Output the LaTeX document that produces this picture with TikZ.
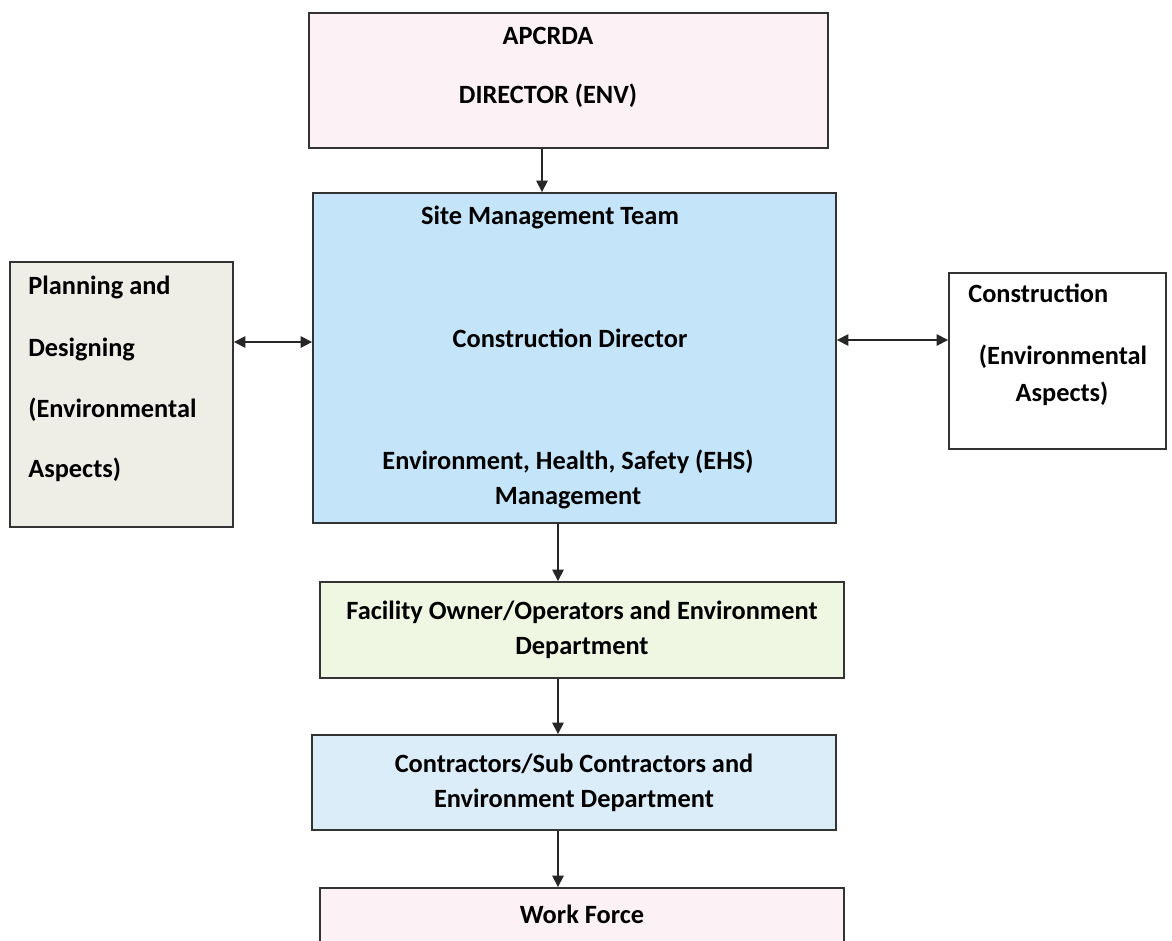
\documentclass[tikz,border=0pt]{standalone}
\usepackage{fontspec}
\setmainfont{Carlito}
\usetikzlibrary{arrows.meta}
\definecolor{boxpink}{HTML}{FCF1F5}
\definecolor{boxblue}{HTML}{C4E5F9}
\definecolor{boxbeige}{HTML}{EEEDE6}
\definecolor{boxgreen}{HTML}{EFF6E2}
\definecolor{boxsky}{HTML}{DCEDFA}
\begin{document}
\begin{tikzpicture}[x=0.02cm,y=-0.02cm,
box/.style={draw=black!80, line width=1.1pt, inner sep=0pt, align=center,
  font=\bfseries\fontsize{15}{20}\selectfont},
txt/.style={font=\bfseries\fontsize{15}{20}\selectfont, inner sep=0pt, anchor=mid},
arr/.style={-{Triangle[length=6.5pt,width=6.5pt]}, line width=0.9pt, black!85},
darr/.style={{Triangle[length=6.5pt,width=6.5pt]}-{Triangle[length=6.5pt,width=6.5pt]}, line width=0.9pt, black!85}]
\useasboundingbox (0,0) rectangle (1172,940);
% boxes
\node[box,fill=boxpink,minimum width=10.38cm,minimum height=2.7cm] (apcrda) at (568.5,80.5) {};
\node[box,fill=boxblue,minimum width=10.46cm,minimum height=6.6cm] (site) at (574.5,358) {};
\node[box,fill=boxbeige,minimum width=4.46cm,minimum height=5.3cm] (plan) at (121.5,394.5) {};
\node[box,fill=white,minimum width=4.34cm,minimum height=3.52cm] (constr) at (1057.5,361) {};
\node[box,fill=boxgreen,minimum width=10.48cm,minimum height=1.92cm] (facility) at (582,630)
  {Facility Owner/Operators and Environment\\Department};
\node[box,fill=boxsky,minimum width=10.48cm,minimum height=1.9cm] (contr) at (574,782.5)
  {Contractors/Sub Contractors and\\Environment Department};
\node[box,fill=boxpink,minimum width=10.48cm,minimum height=1.6cm,text depth=0.55cm] (work) at (582,928) {Work Force};
% texts
\node[txt] (apcrdaT) at (548,40) {APCRDA};
\node[txt] (dirT) at (548,99) {DIRECTOR (ENV)};
\node[txt] (siteT) at (550,220) {Site Management Team};
\node[txt] (cdT) at (570,343) {Construction Director};
\node[txt] (ehsT) at (568,465) {Environment, Health, Safety (EHS)};
\node[txt] (mgmtT) at (568,500) {Management};
\foreach \y/\t [count=\i] in {290/Planning and, 352/Designing, 413/(Environmental, 473/Aspects)}
  \node[txt,anchor=mid west] (plan\i) at (28,\y) {\t};
\node[txt,anchor=mid west] (constrT) at (968,298) {Construction};
\node[txt] (envT) at (1063,360) {(Environmental};
\node[txt] (aspT) at (1062,397) {Aspects)};
% connectors
\coordinate (topx) at (542,0);
\coordinate (downx) at (558,0);
\coordinate (midl) at (0,342);
\coordinate (midr) at (0,340);
\draw[arr] (apcrda.south -| topx) -- (site.north -| topx);
\foreach \a/\b in {site/facility, facility/contr, contr/work}
  \draw[arr] (\a.south -| downx) -- (\b.north -| downx);
\draw[darr] (plan.east |- midl) -- (site.west |- midl);
\draw[darr] (site.east |- midr) -- (constr.west |- midr);
\end{tikzpicture}
\end{document}
